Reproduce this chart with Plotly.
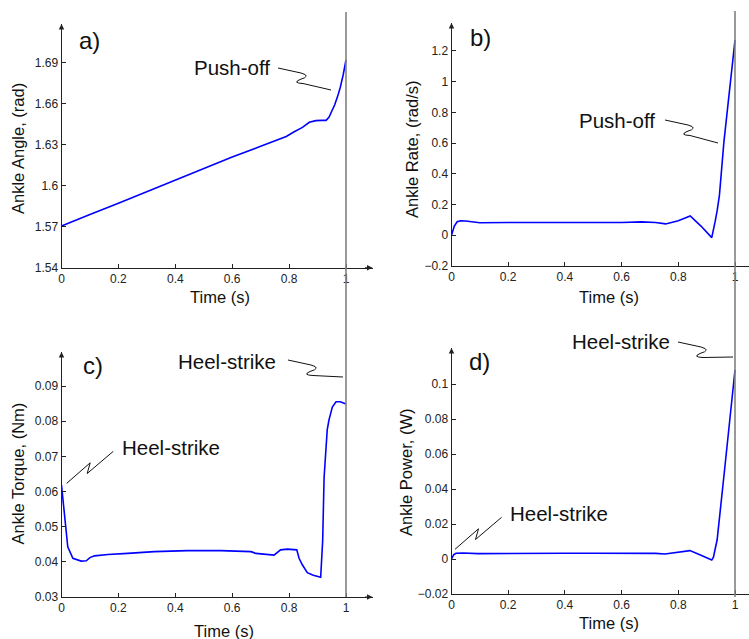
import plotly.graph_objects as go

# ---------------- data ----------------
t_a = [0, 0.05, 0.1, 0.2, 0.3, 0.4, 0.5, 0.6, 0.7, 0.79, 0.818, 0.847, 0.871, 0.894,
       0.915, 0.93, 0.94, 0.95, 0.96, 0.97, 0.98, 0.99, 1.0]
ankle_angle = [1.5705, 1.5750, 1.5790, 1.5871, 1.5957, 1.6042, 1.6126, 1.6210, 1.6288,
               1.6360, 1.6395, 1.6427, 1.6464, 1.6476, 1.6478, 1.6478, 1.6500, 1.6540,
               1.6590, 1.6650, 1.6720, 1.6810, 1.6920]

t_b = [0, 0.01, 0.02, 0.032, 0.05, 0.075, 0.1, 0.2, 0.3, 0.4, 0.5, 0.6, 0.67, 0.72,
       0.755, 0.8, 0.842, 0.88, 0.918, 0.924, 0.93, 0.937, 0.945, 0.961, 0.98, 1.0]
ankle_rate = [0.0, 0.06, 0.088, 0.095, 0.093, 0.086, 0.082, 0.083, 0.082, 0.082, 0.082,
              0.083, 0.087, 0.083, 0.074, 0.095, 0.126, 0.06, -0.015, 0.03, 0.09, 0.16,
              0.26, 0.61, 0.95, 1.27]

t_c = [0, 0.0105, 0.022, 0.04, 0.069, 0.087, 0.1, 0.116, 0.163, 0.233, 0.326, 0.443,
       0.56, 0.666, 0.683, 0.747, 0.77, 0.794, 0.827, 0.835, 0.847, 0.864, 0.885, 0.911,
       0.918, 0.923, 0.929, 0.934, 0.94, 0.952, 0.965, 0.98, 1.0]
ankle_torque = [0.0618, 0.0528, 0.0443, 0.0410, 0.0402, 0.0403, 0.0412, 0.0417, 0.0421,
                0.0424, 0.0429, 0.0432, 0.0432, 0.0429, 0.0424, 0.0419, 0.0434, 0.0436,
                0.0434, 0.0410, 0.0391, 0.0369, 0.0362, 0.0356, 0.0460, 0.0640, 0.0710,
                0.0775, 0.0803, 0.0840, 0.0855, 0.0855, 0.0849]

t_d = [0, 0.008, 0.016, 0.04, 0.093, 0.2, 0.3, 0.4, 0.5, 0.6, 0.67, 0.72, 0.753, 0.8,
       0.841, 0.88, 0.918, 0.924, 0.93, 0.937, 0.96, 0.98, 1.0]
ankle_power = [0.0, 0.0025, 0.0033, 0.0034, 0.0031, 0.0033, 0.0033, 0.0033, 0.0033,
               0.0033, 0.0034, 0.0032, 0.0029, 0.0038, 0.0048, 0.0022, -0.0006, 0.001,
               0.005, 0.011, 0.046, 0.077, 0.108]

x_ticks = [0, 0.2, 0.4, 0.6, 0.8, 1]
x_ticktext = ["0", "0.2", "0.4", "0.6", "0.8", "1"]
a_ticks = [1.54, 1.57, 1.6, 1.63, 1.66, 1.69]
a_ticktext = ["1.54", "1.57", "1.6", "1.63", "1.66", "1.69"]
b_ticks = [-0.2, 0, 0.2, 0.4, 0.6, 0.8, 1.0, 1.2]
b_ticktext = ["\u22120.2", "0", "0.2", "0.4", "0.6", "0.8", "1", "1.2"]
c_ticks = [0.03, 0.04, 0.05, 0.06, 0.07, 0.08, 0.09]
c_ticktext = ["0.03", "0.04", "0.05", "0.06", "0.07", "0.08", "0.09"]
d_ticks = [-0.02, 0, 0.02, 0.04, 0.06, 0.08, 0.1]
d_ticktext = ["\u22120.02", "0", "0.02", "0.04", "0.06", "0.08", "0.1"]

# ---------------- layout helpers ----------------
W, H = 749, 639
FONT = "Liberation Sans, Arial, Helvetica, sans-serif"
AX = "#222222"


def px(p):
    return p / W


def py(p):
    return 1 - p / H


# left column: x=0 at 61.5 px, 284.5 px per second; right: 451.5 px, 283.5 px/s
L_X0, L_U, L_END = 61.5, 284.5, 372.5
R_X0, R_U, R_END = 451.5, 283.5, 749.0

panels = [
    dict(t=t_a, y=ankle_angle, x0=L_X0, u=L_U, xend=L_END, ymin=1.54, top=24, bot=267.7,
         ppu=1366.7, tv=a_ticks, tt=a_ticktext),
    dict(t=t_b, y=ankle_rate, x0=R_X0, u=R_U, xend=R_END, ymin=-0.2, top=23, bot=266,
         ppu=153.6, tv=b_ticks, tt=b_ticktext),
    dict(t=t_c, y=ankle_torque, x0=L_X0, u=L_U, xend=L_END, ymin=0.03, top=352, bot=597,
         ppu=3516.7, tv=c_ticks, tt=c_ticktext),
    dict(t=t_d, y=ankle_power, x0=R_X0, u=R_U, xend=R_END, ymin=-0.02, top=348, bot=594,
         ppu=1750.0, tv=d_ticks, tt=d_ticktext),
]

fig = go.Figure()
layout = dict(
    width=W, height=H, margin=dict(l=0, r=0, t=0, b=0),
    paper_bgcolor="white", plot_bgcolor="white", showlegend=False,
    font=dict(family=FONT, color=AX),
)
annotations = []
shapes = []

for i, p in enumerate(panels, start=1):
    xs = "x" if i == 1 else f"x{i}"
    ys = "y" if i == 1 else f"y{i}"
    xmax = (p["xend"] - p["x0"]) / p["u"]
    ymax = p["ymin"] + (p["bot"] - p["top"]) / p["ppu"]
    fig.add_trace(go.Scatter(x=p["t"], y=p["y"], mode="lines", xaxis=xs, yaxis=ys,
                             line=dict(color="#0000ff", width=1.6), hoverinfo="skip"))
    common = dict(showgrid=False, zeroline=False, showline=True, linecolor=AX, linewidth=1,
                  ticks="inside", ticklen=4, tickcolor=AX, tickwidth=1,
                  tickfont=dict(family=FONT, size=12, color=AX), automargin=False)
    layout["xaxis" if i == 1 else f"xaxis{i}"] = dict(
        common, domain=[px(p["x0"]), min(1.0, px(p["xend"]))], range=[0, xmax],
        tickmode="array", tickvals=x_ticks, ticktext=x_ticktext, anchor=ys)
    layout["yaxis" if i == 1 else f"yaxis{i}"] = dict(
        common, domain=[py(p["bot"]), py(p["top"])], range=[p["ymin"], ymax],
        tickmode="array", tickvals=p["tv"], ticktext=p["tt"], anchor=xs)
    # axis arrowheads
    annotations.append(dict(x=0, y=ymax, xref=xs, yref=ys, ax=0, ay=9, text="",
                            showarrow=True, arrowhead=2, arrowsize=1.1, arrowwidth=1,
                            arrowcolor=AX))
    if p["xend"] < W:
        annotations.append(dict(x=xmax, y=p["ymin"], xref=xs, yref=ys, ax=-9, ay=0, text="",
                                showarrow=True, arrowhead=2, arrowsize=1.1, arrowwidth=1,
                                arrowcolor=AX))

# vertical gray lines at t = 1 spanning both rows
shapes.append(dict(type="line", xref="x", yref="paper", x0=1, x1=1, y0=py(597), y1=py(12),
                   line=dict(color="#808080", width=1.6)))
shapes.append(dict(type="line", xref="x2", yref="paper", x0=1, x1=1, y0=py(597), y1=py(11),
                   line=dict(color="#808080", width=1.6)))


def right_squiggle(sx, sy, ex, ey):
    pts = f"M {px(sx)},{py(sy)} L {px(sx + 23)},{py(sy + 5)} " \
          f"Q {px(sx + 34)},{py(sy + 8)} {px(sx + 22)},{py(sy + 11.5)} " \
          f"Q {px(sx + 14)},{py(sy + 15)} {px(sx + 25)},{py(sy + 15.5)} " \
          f"L {px(ex)},{py(ey)}"
    return dict(type="path", xref="paper", yref="paper", path=pts,
                line=dict(color="#111111", width=1))


def left_squiggle(sx, sy):
    pts = f"M {px(sx)},{py(sy)} L {px(sx + 23.5)},{py(sy - 20.5)} " \
          f"L {px(sx + 20.5)},{py(sy - 9.8)} L {px(sx + 46.6)},{py(sy - 32)}"
    return dict(type="path", xref="paper", yref="paper", path=pts,
                line=dict(color="#111111", width=1))


shapes.append(right_squiggle(278, 68, 331, 90))
shapes.append(right_squiggle(665, 120, 718, 143))
shapes.append(right_squiggle(288, 360, 343, 377))
shapes.append(right_squiggle(678, 342, 733, 357))
shapes.append(left_squiggle(66.7, 483.3))
shapes.append(left_squiggle(455, 549.3))


def text(s, x, y, size, angle=0):
    annotations.append(dict(text=s, x=px(x), y=py(y), xref="paper", yref="paper",
                            showarrow=False, xanchor="center", yanchor="middle",
                            textangle=angle, font=dict(family=FONT, size=size, color="#111111")))


# panel letters
text("a)", 89, 40, 24)
text("b)", 480, 38, 24)
text("c)", 93, 365, 24)
text("d)", 479, 361, 24)
# event labels
text("Push-off", 231.5, 68, 20.5)
text("Push-off", 616.5, 120, 20.5)
text("Heel-strike", 227, 361, 20.5)
text("Heel-strike", 171, 447, 20.5)
text("Heel-strike", 621, 342, 20.5)
text("Heel-strike", 559, 513, 20.5)
# axis titles
text("Time (s)", 220, 297, 16.5)
text("Time (s)", 609, 297, 16.5)
text("Time (s)", 224, 631, 16.5)
text("Time (s)", 609, 623, 16.5)
text("Ankle Angle, (rad)", 18, 149, 16.5, -90)
text("Ankle Rate, (rad/s)", 412, 149, 16.5, -90)
text("Ankle Torque, (Nm)", 17.5, 474, 16.5, -90)
text("Ankle Power, (W)", 406, 472, 16.5, -90)

layout["annotations"] = annotations
layout["shapes"] = shapes
fig.update_layout(**layout)
fig.write_html(
    "out.html",
    config={"displayModeBar": False},
    post_script="document.body.style.margin='0';document.body.style.overflow='hidden';",
)
